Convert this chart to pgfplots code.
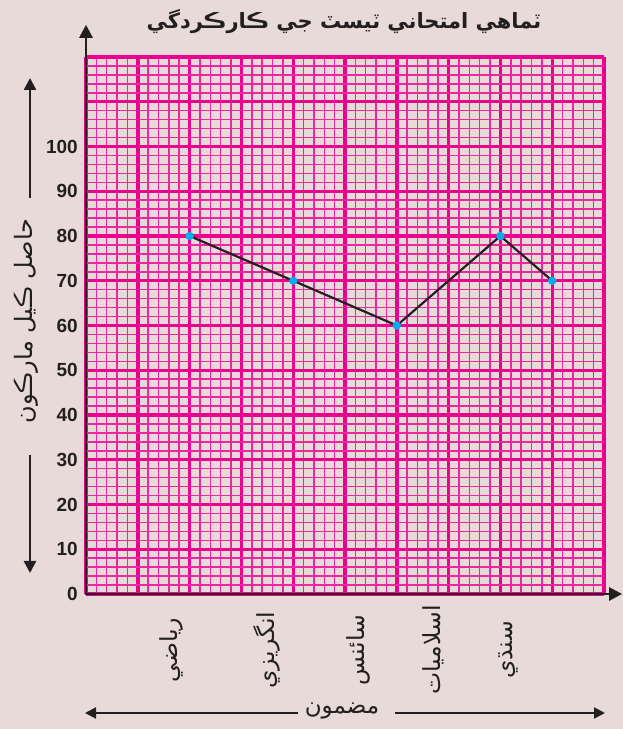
\documentclass[border=0pt]{standalone}
\usepackage{fontspec}
\setmainfont{Liberation Sans}
\newfontfamily\arabicfont[Script=Arabic]{DejaVu Sans}
\usepackage{pgfplots}
\pgfplotsset{compat=1.18}
\usetikzlibrary{arrows.meta}
\TeXXeTstate=1
\definecolor{bg}{HTML}{E9DADA}
\definecolor{grd}{HTML}{EC008C}
\definecolor{ink}{HTML}{231F20}
\definecolor{pt}{HTML}{00AEEF}
\begin{document}
\begin{tikzpicture}
\fill[bg] (-86bp,-135bp) rectangle (537bp,594bp);
\begin{axis}[
  at={(0,0)}, anchor=south west,
  width=518bp, height=537bp, scale only axis,
  xmin=0, xmax=10, ymin=0, ymax=120,
  axis line style={draw=none},
  xtick={0,1,...,10}, xticklabels={},
  ytick={0,10,...,120},
  yticklabels={0,10,20,30,40,50,60,70,80,90,100,{},{}},
  minor xtick={0.2,0.4,0.6,0.8,1.2,1.4,1.6,1.8,2.2,2.4,2.6,2.8,3.2,3.4,3.6,3.8,4.2,4.4,4.6,4.8,5.2,5.4,5.6,5.8,6.2,6.4,6.6,6.8,7.2,7.4,7.6,7.8,8.2,8.4,8.6,8.8,9.2,9.4,9.6,9.8},
  minor ytick={2,4,6,8,12,14,16,18,22,24,26,28,32,34,36,38,42,44,46,48,52,54,56,58,62,64,66,68,72,74,76,78,82,84,86,88,92,94,96,98,102,104,106,108,112,114,116,118},
  grid=both,
  major grid style={grd, line width=3.4bp},
  minor grid style={grd!85!white, line width=1.5bp},
  major tick length=0pt, minor tick length=0pt,
  tick style={draw=none},
  /pgf/number format/assume math mode=true,
  yticklabel style={font=\bfseries\fontsize{19bp}{19bp}\selectfont, text=ink, inner sep=0pt},
  yticklabel shift=8bp,
  extra x ticks={1.65,3.5,5.25,6.7,8.15},
  extra x tick labels={\beginR رياضي\endR,\beginR انگريزي\endR,\beginR سائنس\endR,\beginR اسلاميات\endR,\beginR سنڌي\endR},
  extra x tick style={grid=none, minor xtick={}, xticklabel shift=56bp, xticklabel style={font=\arabicfont\fontsize{23.5bp}{23.5bp}\selectfont, text=ink, rotate=90, anchor=center, inner sep=0pt}},
  clip=false,
]
\draw[ink, line width=2.7bp, line cap=rect, -{Triangle[length=13bp,width=13bp]}] (axis cs:0,0) -- (axis cs:0,127.2);
\draw[ink, line width=2.7bp, line cap=rect, -{Triangle[length=13bp,width=13bp]}] (axis cs:0,0) -- (axis cs:10.35,0);
\addplot[ink, line width=2.2bp, mark=*, mark size=3bp, mark options={draw=pt, fill=pt, solid}] coordinates {(2,80) (4,70) (6,60) (8,80) (9,70)};
\end{axis}
\node[font=\arabicfont\bfseries\fontsize{21bp}{21bp}\selectfont, text=ink] at (258bp,572bp) {\beginR ٽماهي امتحاني ٽيسٽ جي ڪارڪردگي\endR};
\node[rotate=90, font=\arabicfont\fontsize{24bp}{24bp}\selectfont, text=ink] at (-60bp,273bp) {\beginR حاصل ڪيل مارڪون\endR};
\draw[ink, line width=2.5bp, -{Triangle[length=12bp,width=12bp]}] (-56bp,396bp) -- (-56bp,516bp);
\draw[ink, line width=2.5bp, -{Triangle[length=12bp,width=12bp]}] (-56bp,139bp) -- (-56bp,21bp);
\node[font=\arabicfont\fontsize{23bp}{23bp}\selectfont, text=ink] at (256bp,-117bp) {\beginR مضمون\endR};
\draw[ink, line width=2bp, -{Triangle[length=11bp,width=11bp]}] (212bp,-119bp) -- (-1bp,-119bp);
\draw[ink, line width=2bp, -{Triangle[length=11bp,width=11bp]}] (309bp,-119bp) -- (519bp,-119bp);
\pgfresetboundingbox
\path[use as bounding box] (-86bp,-135bp) rectangle (537bp,594bp);
\end{tikzpicture}
\end{document}
